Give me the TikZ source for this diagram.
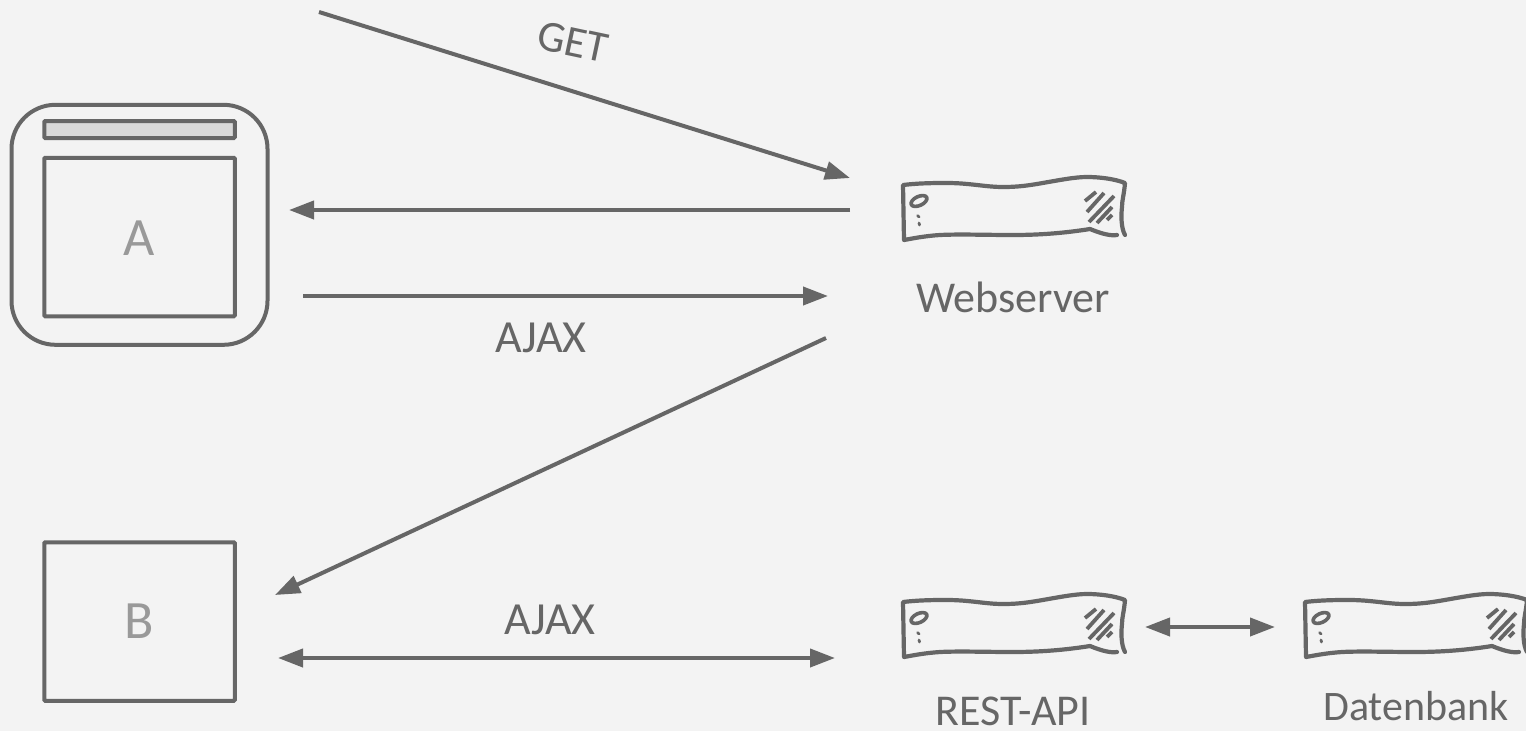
\documentclass[tikz,border=0pt]{standalone}
\usepackage{fontspec}
\setmainfont{Carlito}
\usetikzlibrary{arrows.meta}
\definecolor{bgc}{HTML}{F3F3F3}
\definecolor{ink}{HTML}{666666}
\definecolor{soft}{HTML}{999999}
\definecolor{barfill}{HTML}{D9D9D9}
\tikzset{
  x=1pt,y=-1pt,
  conn/.style={draw=ink,line width=4pt},
  tip/.style={-{Triangle[length=25pt,width=18pt]}},
  tips/.style={{Triangle[length=25pt,width=18pt]}-{Triangle[length=25pt,width=18pt]}},
  lbl/.style={text=ink,font=\fontsize{44}{44}\selectfont,inner sep=0pt},
  letter/.style={text=soft,font=\fontsize{54}{54}\selectfont,inner sep=0pt},
  pane/.style={draw=ink,line width=4pt,rounded corners=1pt,inner sep=0pt},
  srv/.style={draw=ink,line width=4.2pt,line cap=round,line join=round},
  server/.pic={
    \draw[srv] (1117,235) .. controls (1111,236) and (1102,234) .. (1090,229)
       .. controls (1065,233) and (1040,235) .. (1013,235)
       .. controls (985,235) and (960,234) .. (940,235)
       .. controls (925,236) and (915,238) .. (904,240) -- (903,185)
       .. controls (920,183) and (935,183) .. (947,183)
       .. controls (970,183) and (985,187) .. (1003,187)
       .. controls (1020,187) and (1030,185) .. (1037,184)
       .. controls (1060,180) and (1075,177) .. (1087,177)
       .. controls (1100,177) and (1115,179) .. (1125,183)
       .. controls (1124,195) and (1122,200) .. (1122,207)
       .. controls (1121,215) and (1121,228) .. (1125,235);
    \draw[srv,line width=3.6pt,rotate around={25:(919,201)}] (919,201) ellipse [x radius=8.5pt,y radius=4.5pt];
    \draw[srv,line width=2.8pt] (917.5,215.5) -- (919,217) (919,223) -- (919.5,225);
    \draw[srv,line width=3.8pt,line cap=butt] (1085,201) -- (1096,192) (1087,212) -- (1104,193) (1089,222) -- (1114,196)
       (1097,223) -- (1112,207) (1107,220) -- (1112,215);
  }
}
\begin{document}
\begin{tikzpicture}
\useasboundingbox[fill=bgc] (0,0) rectangle (1526,731);
% browser
\node[pane,rounded corners=44pt,minimum width=256pt,minimum height=240pt] (browser) at (139.5,224.8) {};
\node[pane,fill=barfill,minimum width=190.5pt,minimum height=17pt] (bar) at (139.5,129.5) {};
\node[pane,minimum width=190.5pt,minimum height=158.5pt] (winA) at (139.5,237) {};
\node[letter] (letterA) at (139,238) {A};
\node[pane,minimum width=190.5pt,minimum height=158.5pt] (winB) at (139.5,621.5) {};
\node[letter] (letterB) at (139,621) {B};
% servers
\pic (web) at (0,0) {server};
\pic (rest) at (0,417) {server};
\pic (db) at (402,417) {server};
\node[lbl] (webL) at (1013,297) {Webserver};
\node[lbl] (restL) at (1013,711) {REST-API};
\node[lbl,font=\fontsize{42}{42}\selectfont] (dbL) at (1416,706) {Datenbank};
\node[lbl,rotate=-12] (getL) at (573,42) {GET};
\node[lbl,font=\fontsize{46}{46}\selectfont] (ajaxA) at (541,338) {AJAX};
\node[lbl,font=\fontsize{46}{46}\selectfont] (ajaxB) at (550,620) {AJAX};
% anchors of connectors
\coordinate (a1) at (319,12);
\coordinate (a2) at (850,178);
\coordinate (b1) at (850,210);
\coordinate (b2) at (289,210);
\coordinate (c1) at (303,296);
\coordinate (c2) at (828,296);
\coordinate (d1) at (826,338);
\coordinate (d2) at (275,595);
\coordinate (e1) at (278,658);
\coordinate (e2) at (835,658);
\coordinate (f1) at (1145,627);
\coordinate (f2) at (1275,627);
\draw[conn,tip] (a1) -- (a2);
\draw[conn,tip] (b1) -- (b2);
\draw[conn,tip] (c1) -- (c2);
\draw[conn,tip] (d1) -- (d2);
\draw[conn,tips] (e1) -- (e2);
\draw[conn,tips] (f1) -- (f2);
\end{tikzpicture}
\end{document}
